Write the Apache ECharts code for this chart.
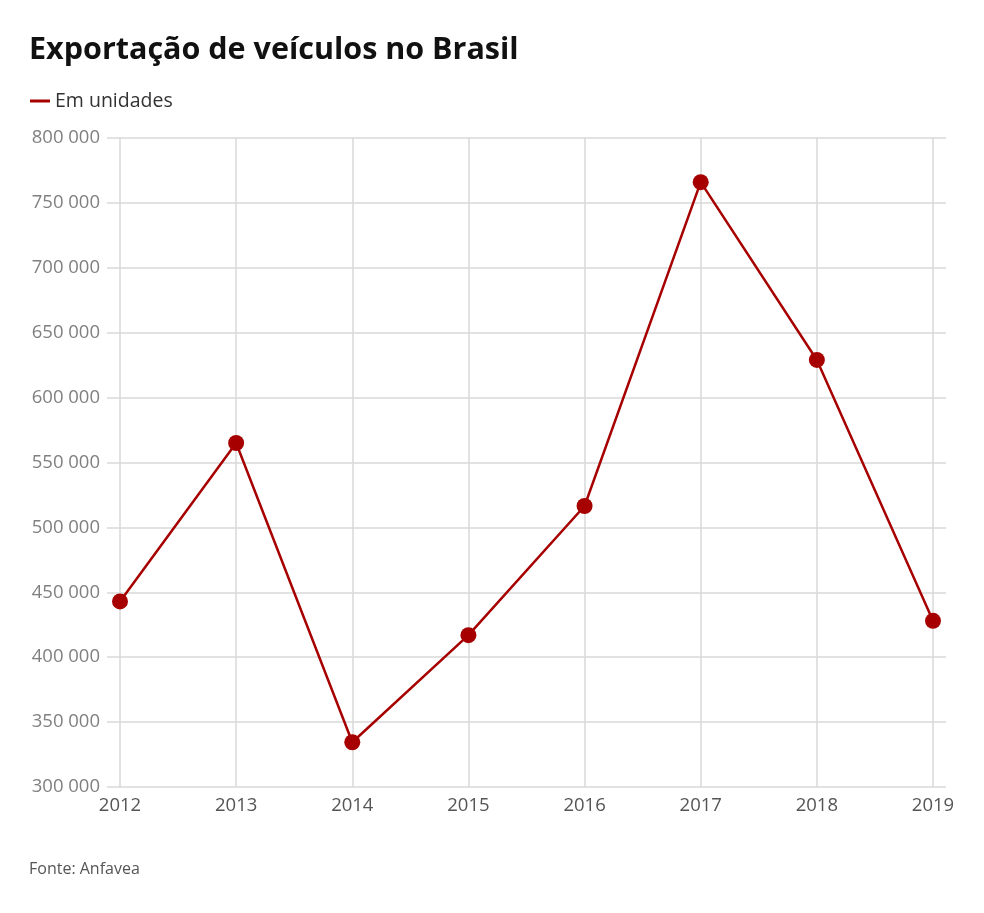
<!DOCTYPE html>
<html>
<head>
<meta charset="utf-8">
<script src="https://cdn.jsdelivr.net/npm/echarts@6/dist/echarts.min.js"></script>
<style>
  html, body { margin: 0; padding: 0; background: #fff; }
  #chart { width: 984px; height: 913px; }
</style>
</head>
<body>
<div id="chart"></div>
<script>
// dados (Anfavea), em unidades
const years = ['2012', '2013', '2014', '2015', '2016', '2017', '2018', '2019']
const exports = [443000, 565000, 334500, 417000, 516500, 766000, 629000, 428000]

const yMin = 300000
const yMax = 800000
const yStep = 50000

const red = '#a60000'
const gridColor = '#d9d9d9'

function fmt(v) {
  return String(v).replace(/\B(?=(\d{3})+(?!\d))/g, ' ')
}

const chart = echarts.init(document.getElementById('chart'))
chart.setOption({
  backgroundColor: '#fff',
  animation: false,
  textStyle: { fontFamily: 'Open Sans' },
  title: [
    {
      text: 'Exportação de veículos no Brasil',
      left: 24,
      top: 30,
      textStyle: { fontSize: 30.5, fontWeight: 'bold', color: '#111', fontFamily: 'Open Sans' }
    },
    {
      text: 'Fonte: Anfavea',
      left: 24,
      top: 856,
      textStyle: { fontSize: 16, fontWeight: 'normal', color: '#555' }
    }
  ],
  legend: {
    left: 25,
    top: 86,
    itemWidth: 20,
    itemHeight: 3,
    itemGap: 10,
    icon: 'rect',
    data: [{ name: 'Em unidades', itemStyle: { color: red } }],
    textStyle: { fontSize: 19.5, color: '#333', padding: [0, 0, 0, 0] }
  },
  grid: { left: 120, right: 51, top: 138, bottom: 126 },
  xAxis: {
    type: 'category',
    data: years,
    boundaryGap: false,
    axisLine: { show: false },
    axisTick: { show: false },
    axisLabel: { fontSize: 18.5, color: '#555', margin: 9 },
    splitLine: { show: true, lineStyle: { color: gridColor, width: 1.5 } }
  },
  yAxis: [
    {
      type: 'value',
      min: yMin,
      max: yMax,
      interval: yStep,
      axisLine: { show: false },
      axisTick: { show: true, length: 13, lineStyle: { color: gridColor, width: 1.5 } },
      axisLabel: { fontSize: 18.5, color: '#808080', margin: 20, formatter: fmt },
      splitLine: { show: true, lineStyle: { color: gridColor, width: 1.5 } }
    },
    {
      type: 'value',
      position: 'right',
      min: yMin,
      max: yMax,
      interval: yStep,
      axisLine: { show: false },
      axisTick: { show: true, length: 13, lineStyle: { color: gridColor, width: 1.5 } },
      axisLabel: { show: false },
      splitLine: { show: false }
    }
  ],
  series: [
    {
      name: 'Em unidades',
      type: 'line',
      data: exports,
      yAxisIndex: 0,
      symbol: 'circle',
      symbolSize: 16,
      lineStyle: { color: red, width: 2.5 },
      itemStyle: { color: red },
      z: 5
    }
  ]
})
</script>
</body>
</html>
